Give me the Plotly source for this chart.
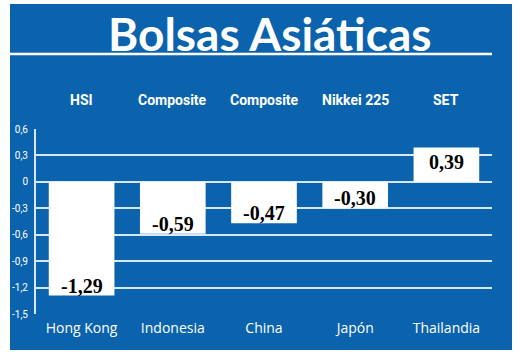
import plotly.graph_objects as go

countries = ["Hong Kong", "Indonesia", "China", "Japón", "Thailandia"]
indices = ["HSI", "Composite", "Composite", "Nikkei 225", "SET"]
values = [-1.29, -0.59, -0.47, -0.30, 0.39]
tick_vals = [0.6, 0.3, 0, -0.3, -0.6, -0.9, -1.2, -1.5]
tick_text = ["0,6", "0,3", "0", "-0,3", "-0,6", "-0,9", "-1,2", "-1,5"]

BLUE = "#0b63ad"
GRID = "#d6e8f7"

# plot area in pixels: x 36..492, y 129..314
L, R, T, B = 36, 492, 129, 314
W, H = 520, 354
def px(x):
    return (x - L) / (R - L)
def py(y):
    return (B - y) / (B - T)

labels = [f"{v:.2f}".replace(".", ",") for v in values]

fig = go.Figure(go.Bar(
    x=countries, y=values,
    marker=dict(color="white", line=dict(width=0)),
    hoverinfo="skip",
))

fig.update_layout(
    width=W, height=H,
    margin=dict(l=L, r=W - R, t=T, b=H - B, pad=0),
    paper_bgcolor="white", plot_bgcolor="rgba(0,0,0,0)",
    bargap=0.28, showlegend=False,
    xaxis=dict(showgrid=False, showline=False, ticks="", zeroline=False,
               tickfont=dict(family="Open Sans", size=14, color="white"),
               ticklabelstandoff=4),
    yaxis=dict(range=[-1.5, 0.6], tickvals=tick_vals, ticktext=tick_text,
               showgrid=True, gridcolor=GRID, gridwidth=2,
               zeroline=True, zerolinecolor=GRID, zerolinewidth=2,
               showline=True, linecolor=GRID, linewidth=2, ticks="",
               tickfont=dict(family="Roboto", size=10, color="white"),
               ticklabelstandoff=4),
    shapes=[
        dict(type="rect", xref="paper", yref="paper", layer="below",
             x0=px(10), x1=px(512), y0=py(350), y1=py(4),
             fillcolor=BLUE, line=dict(width=0)),
        dict(type="line", xref="paper", yref="paper",
             x0=px(10), x1=px(492), y0=py(54), y1=py(54),
             line=dict(color="white", width=2.5)),
    ],
)

fig.add_annotation(text="Bolsas Asiáticas", xref="paper", yref="paper",
                   x=px(269), y=py(33), xanchor="center", yanchor="middle",
                   showarrow=False,
                   font=dict(family="Lato", size=46, color="white", weight="bold"))

for c, idx in zip(countries, indices):
    fig.add_annotation(text=idx, x=c, xref="x", yref="paper", y=py(100),
                       xanchor="center", yanchor="middle", showarrow=False,
                       font=dict(family="Roboto", size=14, color="white", weight="bold"))

for c, v, t in zip(countries, values, labels):
    fig.add_annotation(text=t, x=c, y=v, xref="x", yref="y",
                       xanchor="center",
                       yanchor="bottom" if v < 0 else "top",
                       yshift=-3 if v < 0 else -1,
                       showarrow=False,
                       font=dict(family="Liberation Serif", size=20, color="black", weight="bold"))

fig.write_html("out.html")
